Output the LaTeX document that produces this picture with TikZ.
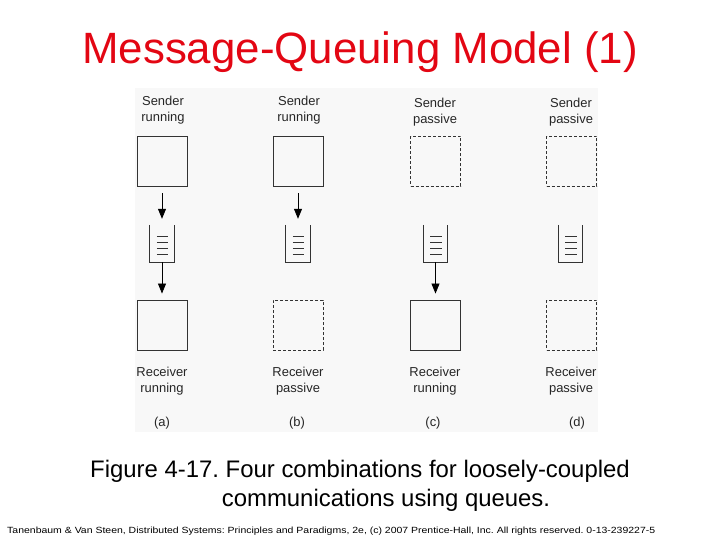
\documentclass[tikz,border=0pt]{standalone}
\usepackage{fontspec}
\setmainfont{Liberation Sans}
\usetikzlibrary{arrows.meta}
\definecolor{titlered}{HTML}{E30613}
\definecolor{linegray}{HTML}{333333}
\definecolor{figbg}{HTML}{F8F8F8}
\frenchspacing
\tikzset{
  procbox/.style={draw=linegray, line width=0.9bp, minimum width=50bp, minimum height=50bp, inner sep=0pt},
  passivebox/.style={procbox, dash pattern=on 3bp off 2bp},
  qnode/.style={minimum width=24bp, minimum height=37bp, inner sep=0pt},
  qwall/.style={draw=linegray, line width=1.1bp},
  qline/.style={draw=linegray, line width=0.8bp},
  msgarrow/.style={draw=black, line width=0.8bp, -{Triangle[length=10bp,width=8bp]}, shorten >=6bp},
  lbl/.style={font=\fontsize{13}{16}\selectfont, align=center, text=black!85, inner sep=0pt},
}
\newcommand{\qlines}[1]{%
  \foreach \yy in {12,18,24,30}{\draw[qline] ([xshift=7bp,yshift=-\yy bp]#1.north west) -- ([xshift=-6bp,yshift=-\yy bp]#1.north east);}}
\begin{document}
\begin{tikzpicture}[x=1bp,y=-1bp]
\useasboundingbox (0,0) rectangle (720,540);
\fill[figbg] (135,88) rectangle (598,432);
\node[text=titlered, font=\fontsize{44}{50}\selectfont, anchor=base] (title) at (360,64) {Message-Queuing Model (1)};
% senders
\node[lbl] (sta) at (163,110) {Sender\\running};
\node[lbl] (stb) at (299,110) {Sender\\running};
\node[lbl] (stc) at (435,112) {Sender\\passive};
\node[lbl] (std) at (571,112) {Sender\\passive};
\node[procbox] (sa) at (162,161) {};
\node[procbox] (sb) at (298,161) {};
\node[passivebox] (sc) at (435.5,161.5) {};
\node[passivebox] (sd) at (571.5,161.5) {};
% queues
\node[qnode] (qa) at (162,243.5) {};
\node[qnode] (qb) at (298,243.5) {};
\node[qnode] (qc) at (435.5,243.5) {};
\node[qnode] (qd) at (570.5,243.5) {};
\foreach \q in {qa,qb,qc,qd}{\draw[qwall] (\q.north west) -- (\q.south west) -- (\q.south east) -- (\q.north east); \qlines{\q}}
% receivers
\node[procbox] (ra) at (162,325) {};
\node[passivebox] (rb) at (298,325) {};
\node[procbox] (rc) at (435.5,325) {};
\node[passivebox] (rd) at (571.5,325) {};
\node[lbl] (rta) at (162,381) {Receiver\\running};
\node[lbl] (rtb) at (298,381) {Receiver\\passive};
\node[lbl] (rtc) at (435,381) {Receiver\\running};
\node[lbl] (rtd) at (571,381) {Receiver\\passive};
\node[lbl] (la) at (162,423) {(a)};
\node[lbl] (lb) at (297,423) {(b)};
\node[lbl] (lc) at (433,423) {(c)};
\node[lbl] (ld) at (577,423) {(d)};
% arrows
\draw[msgarrow] ([yshift=-7bp]sa.south) -- (qa.north);
\draw[msgarrow] (qa.south) -- (ra.north);
\draw[msgarrow] ([yshift=-7bp]sb.south) -- (qb.north);
\draw[msgarrow] (qc.south) -- (rc.north);
% caption
\node[font=\fontsize{24}{29}\selectfont, anchor=base] (cap1) at (360,477) {Figure 4-17. Four combinations for loosely-coupled};
\node[font=\fontsize{24}{29}\selectfont, anchor=base] (cap2) at (386,506) {communications using queues.};
\node[anchor=base west, inner sep=0pt, font=\fontsize{9}{10}\selectfont] (foot) at (7,533) {\resizebox{648bp}{\height}{Tanenbaum \& Van Steen, Distributed Systems: Principles and Paradigms, 2e, (c) 2007 Prentice-Hall, Inc. All rights reserved. 0-13-239227-5}};
\end{tikzpicture}
\end{document}
